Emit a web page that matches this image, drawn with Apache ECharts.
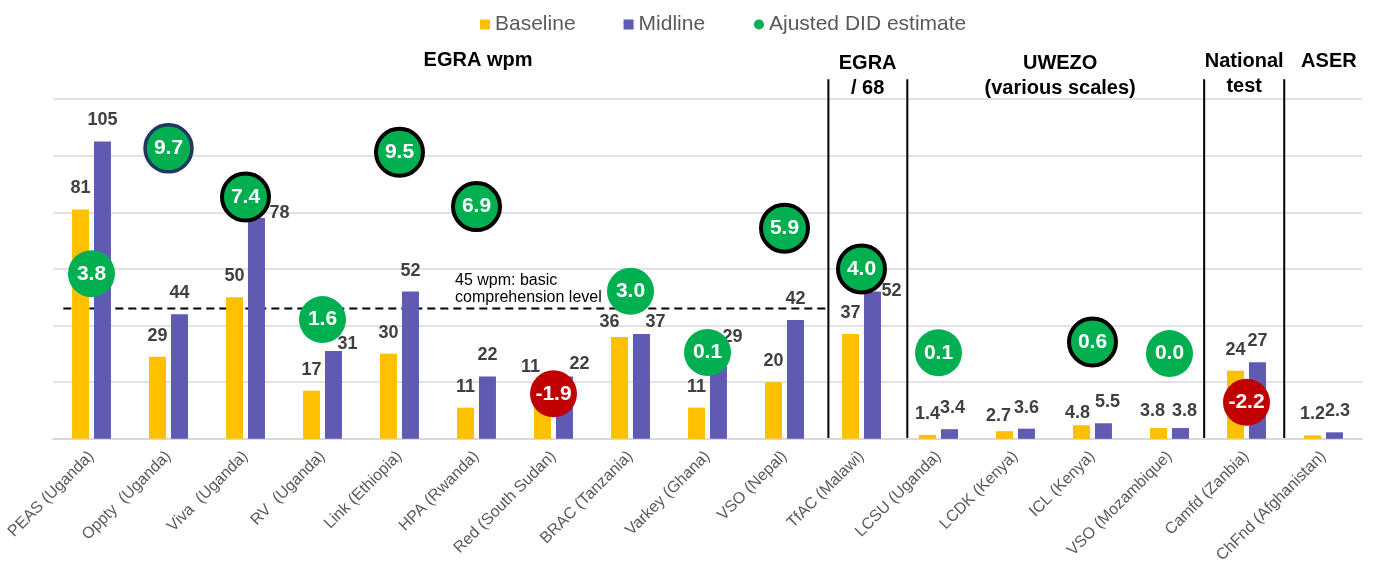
<!DOCTYPE html>
<html>
<head>
<meta charset="utf-8">
<script src="https://cdn.jsdelivr.net/npm/echarts@6/dist/echarts.min.js"></script>
<style>
  html, body { margin: 0; padding: 0; background: #fff; }
  #main { width: 1373px; height: 566px; }
</style>
</head>
<body>
<div id="main"></div>
<script>
var categories = [
  "PEAS (Uganda)", "Oppty  (Uganda)", "Viva  (Uganda)", "RV  (Uganda)", "Link (Ethiopia)",
  "HPA (Rwanda)", "Red (South Sudan)", "BRAC (Tanzania)", "Varkey (Ghana)", "VSO (Nepal)",
  "TfAC (Malawi)", "LCSU (Uganda)", "LCDK (Kenya)", "ICL (Kenya)", "VSO (Mozambique)",
  "Camfd (Zanbia)", "ChFnd (Afghanistan)"
];
var baseline = [81, 29, 50, 17, 30, 11, 11, 36, 11, 20, 37, 1.4, 2.7, 4.8, 3.8, 24, 1.2];
var midline = [105, 44, 78, 31, 52, 22, 22, 37, 29, 42, 52, 3.4, 3.6, 5.5, 3.8, 27, 2.3];
var didEstimate = [3.8, 9.7, 7.4, 1.6, 9.5, 6.9, -1.9, 3.0, 0.1, 5.9, 4.0, 0.1, null, 0.6, 0.0, -2.2, null];
// height on the wpm scale where each DID bubble is placed (not its value)
var didBubbleY = [58.3, 102.6, 85.4, 42.1, 101.2, 82, 15.9, 52.1, 30.5, 74.4, 60, 30.4, null, 34.2, 30.1, 12.9, null];
var didOutline = ["", "navy", "black", "", "black", "black", "", "", "", "black", "black", "", "", "black", "", "", ""];
var yTicks = [0, 20, 40, 60, 80, 100, 120];

// label nudges where the original moved them out of the way of a bubble
var baseNudge = { 6: [-12, -20], 7: [-10, 6], 12: [-6, 6], 13: [-4, 9], 14: [-6, 4] };
var midNudge = { 2: [23, 16], 3: [14, 14], 6: [15, 9], 7: [14, 9], 8: [14, 1], 10: [19, 20], 11: [3, 0], 13: [4, 0], 14: [4, 4], 16: [3, 0] };

var FONT = "'Liberation Sans', Arial, sans-serif";

function barData(values, nudge) {
  return values.map(function (v, i) {
    var item = { value: v };
    if (nudge[i]) item.label = { offset: nudge[i] };
    return item;
  });
}

var didData = [];
didEstimate.forEach(function (v, i) {
  if (v === null) return;
  var item = {
    value: [i, didBubbleY[i]],
    did: v,
    symbolSize: 47,
    itemStyle: { color: v < 0 ? "#c00000" : "#00b050" }
  };
  if (didOutline[i] === "black") {
    item.itemStyle.borderColor = "#000";
    item.itemStyle.borderWidth = 4;
  } else if (didOutline[i] === "navy") {
    item.itemStyle.borderColor = "#1f3864";
    item.itemStyle.borderWidth = 3.5;
  }
  didData.push(item);
});

var chartDom = document.getElementById("main");
var myChart = echarts.init(chartDom);
var option;

var barLabel = {
  show: true,
  position: "top",
  distance: 11,
  lineHeight: 20,
  fontSize: 18,
  fontWeight: "bold",
  color: "#404040"
};

option = {
  animation: false,
  textStyle: { fontFamily: FONT },
  legend: [
    {
      data: ["Baseline", "Midline"],
      left: 475,
      top: 9,
      icon: "rect",
      itemWidth: 10,
      itemHeight: 10,
      itemGap: 48,
      textStyle: { fontSize: 21, color: "#595959", fontFamily: FONT }
    },
    {
      data: ["Ajusted DID estimate"],
      left: 749,
      top: 9,
      icon: "circle",
      itemWidth: 10,
      itemHeight: 10,
      textStyle: { fontSize: 21, color: "#595959", fontFamily: FONT }
    }
  ],
  grid: { left: 53, right: 11, top: 99, bottom: 127 },
  xAxis: {
    type: "category",
    data: categories,
    axisTick: { show: false },
    axisLine: { lineStyle: { color: "#d9d9d9", width: 2 } },
    axisLabel: {
      rotate: 45,
      margin: 15,
      fontSize: 16,
      color: "#595959",
      interval: 0
    }
  },
  yAxis: {
    type: "value",
    min: yTicks[0],
    max: yTicks[yTicks.length - 1],
    interval: yTicks[1] - yTicks[0],
    axisLabel: { show: false },
    axisLine: { show: false },
    axisTick: { show: false },
    splitLine: { lineStyle: { color: "#d9d9d9", width: 1.5 } }
  },
  series: [
    {
      name: "Baseline",
      type: "bar",
      data: barData(baseline, baseNudge),
      barWidth: 17,
      barGap: "29%",
      itemStyle: { color: "#ffc000" },
      label: barLabel
    },
    {
      name: "Midline",
      type: "bar",
      data: barData(midline, midNudge),
      barWidth: 17,
      barGap: "29%",
      itemStyle: { color: "#5f5bb3" },
      label: barLabel
    },
    {
      name: "Ajusted DID estimate",
      type: "scatter",
      data: didData,
      symbol: "circle",
      itemStyle: { color: "#00b050", opacity: 1 },
      label: {
        show: true,
        position: "inside",
        fontSize: 21,
        fontWeight: "bold",
        color: "#fff",
        formatter: function (p) {
          return p.data.did.toFixed(1);
        }
      }
    }
  ]
};

option && myChart.setOption(option);

// annotations: group separators, 45 wpm line and group titles
var c0 = myChart.convertToPixel({ xAxisIndex: 0 }, 0);
var c1 = myChart.convertToPixel({ xAxisIndex: 0 }, 1);
var step = c1 - c0;
function xAt(pos) { return c0 + step * pos; }
function yAt(v) { return myChart.convertToPixel({ yAxisIndex: 0 }, v); }

var separators = [9.57, 10.595, 14.45, 15.49];
var basicLine = 46;

var graphics = [];
separators.forEach(function (p) {
  graphics.push({
    type: "line",
    shape: { x1: xAt(p), y1: yAt(127), x2: xAt(p), y2: yAt(0) },
    style: { stroke: "#000", lineWidth: 2 },
    silent: true
  });
});
graphics.push({
  type: "line",
  shape: { x1: xAt(-0.366), y1: yAt(basicLine), x2: xAt(9.57), y2: yAt(basicLine) },
  style: { stroke: "#000", lineWidth: 2, lineDash: [8, 5] },
  silent: true
});
graphics.push({
  type: "text",
  x: 455,
  y: 289,
  silent: true,
  style: {
    text: "45 wpm: basic\ncomprehension level",
    font: "16px " + FONT,
    lineHeight: 17.5,
    fill: "#000",
    align: "left",
    verticalAlign: "middle"
  }
});

var groupTitles = [
  { text: "EGRA wpm", pos: 5.02, y: 60 },
  { text: "EGRA\n/ 68", pos: 10.08, y: 75.5 },
  { text: "UWEZO\n(various scales)", pos: 12.58, y: 75.5 },
  { text: "National\ntest", pos: 14.97, y: 74 },
  { text: "ASER", pos: 16.07, y: 61 }
];
groupTitles.forEach(function (t) {
  graphics.push({
    type: "text",
    x: xAt(t.pos),
    y: t.y,
    silent: true,
    style: {
      text: t.text,
      font: "bold 20px " + FONT,
      lineHeight: 25,
      fill: "#000",
      align: "center",
      verticalAlign: "middle"
    }
  });
});

myChart.setOption({ graphic: graphics });
</script>
</body>
</html>
